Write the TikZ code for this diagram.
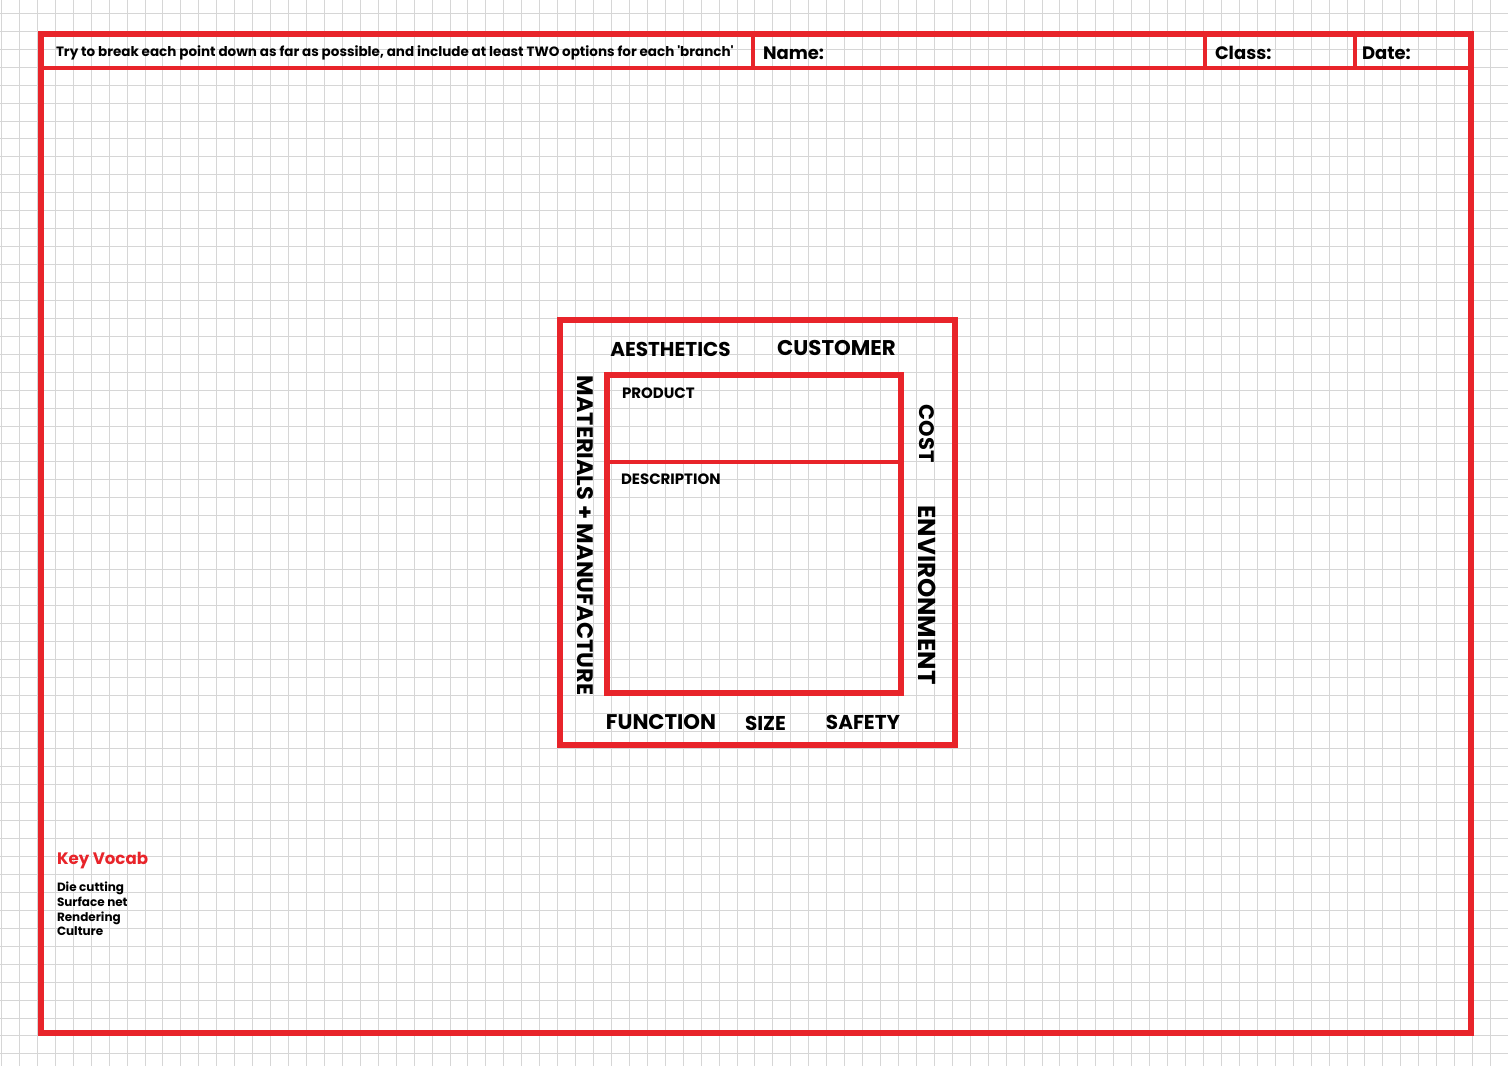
\documentclass[tikz,border=0pt]{standalone}
\usepackage{fontspec}
\setmainfont{Poppins}
\usetikzlibrary{positioning}
\definecolor{sheetred}{RGB}{232,36,42}

\begin{document}
\begin{tikzpicture}[
    x=1pt, y=-1pt,
    node distance=10pt,
    every node/.style={font=\bfseries, inner sep=0pt, outer sep=0pt},
    gridline/.style={draw=black!16, line width=0.8pt},
    frame/.style={draw=sheetred, line width=6pt},
    cell/.style={draw=sheetred, line width=3.5pt, minimum height=34pt, anchor=west},
    header/.style={font=\bfseries\fontsize{18}{22}\selectfont, yshift=-2pt},
    title/.style={font=\bfseries\fontsize{20}{24}\selectfont},
    side/.style={font=\bfseries\fontsize{21}{25}\selectfont, rotate=-90},
    small/.style={font=\bfseries\fontsize{15}{18}\selectfont, anchor=west}
]

\useasboundingbox (0,0) rectangle (1508,1066);
\fill[white] (0,0) rectangle (1508,1066);

% squared paper
\foreach \k in {0,...,83} \draw[gridline] ({1.4+17.94*\k},0) -- ++(0,1066);
\foreach \k in {0,...,58} \draw[gridline] (0,{13.3+17.94*\k}) -- ++(1508,0);

% page frame
\node[frame, minimum width=1430pt, minimum height=999pt] (sheet) at (756,533.5) {};

% header row
\node[cell, minimum width=712pt] (brief) at (41,51) {};
\node[cell, minimum width=452pt, right=0pt of brief] (namecell) {};
\node[cell, minimum width=150pt, right=0pt of namecell] (classcell) {};
\node[cell, minimum width=116pt, right=0pt of classcell] (datecell) {};

\node[right=15pt of brief.west, yshift=-2pt, font=\bfseries\fontsize{13.5}{16}\selectfont] (brieftext)
    {Try to break each point down as far as possible, and include at least TWO options for each \textquotesingle branch\textquotesingle};
\node[header, right=10pt of namecell.west] (namelabel) {Name:};
\node[header, right=10pt of classcell.west] (classlabel) {Class:};
\node[header, right=7pt of datecell.west] (datelabel) {Date:};

% mind map box
\node[frame, minimum width=395pt, minimum height=425pt] (mapbox) at (757.5,532.5) {};
\node[frame, minimum width=294pt, minimum height=318pt] (corebox) at (754,534) {};
\coordinate (split) at (754,462);
\draw[sheetred, line width=3.5pt] (corebox.west |- split) -- (corebox.east |- split);

\node[small] (product) at (622,393) {PRODUCT};
\node[small] (description) at (621,479) {DESCRIPTION};

% top and bottom
\node[title] (aesthetics) at (670.5,349) {AESTHETICS};
\node[title, font=\bfseries\fontsize{21.3}{25}\selectfont] (customer) at (836.5,348) {CUSTOMER};
\node[title, font=\bfseries\fontsize{21.2}{25}\selectfont] (function) at (661,722) {FUNCTION};
\node[title] (size) at (765.5,723) {SIZE};
\node[title] (safety) at (863,722) {SAFETY};

% sides
\node[side, font=\bfseries\fontsize{22.4}{26}\selectfont] (materials) at (585,535.5) {MATERIALS + MANUFACTURE};
\node[side] (cost) at (927,433.5) {COST};
\node[side, font=\bfseries\fontsize{24.5}{28}\selectfont] (environment) at (927,595) {ENVIRONMENT};

% key vocab
\node[anchor=west, text=sheetred, font=\bfseries\fontsize{16.6}{19}\selectfont] (keyvocab) at (57,861) {Key Vocab};
\node[below=13pt of keyvocab.south west, anchor=north west, align=left,
      font=\bfseries\fontsize{12}{14.6}\selectfont] (vocablist)
    {Die cutting\\Surface net\\Rendering\\Culture};

\end{tikzpicture}
\end{document}
